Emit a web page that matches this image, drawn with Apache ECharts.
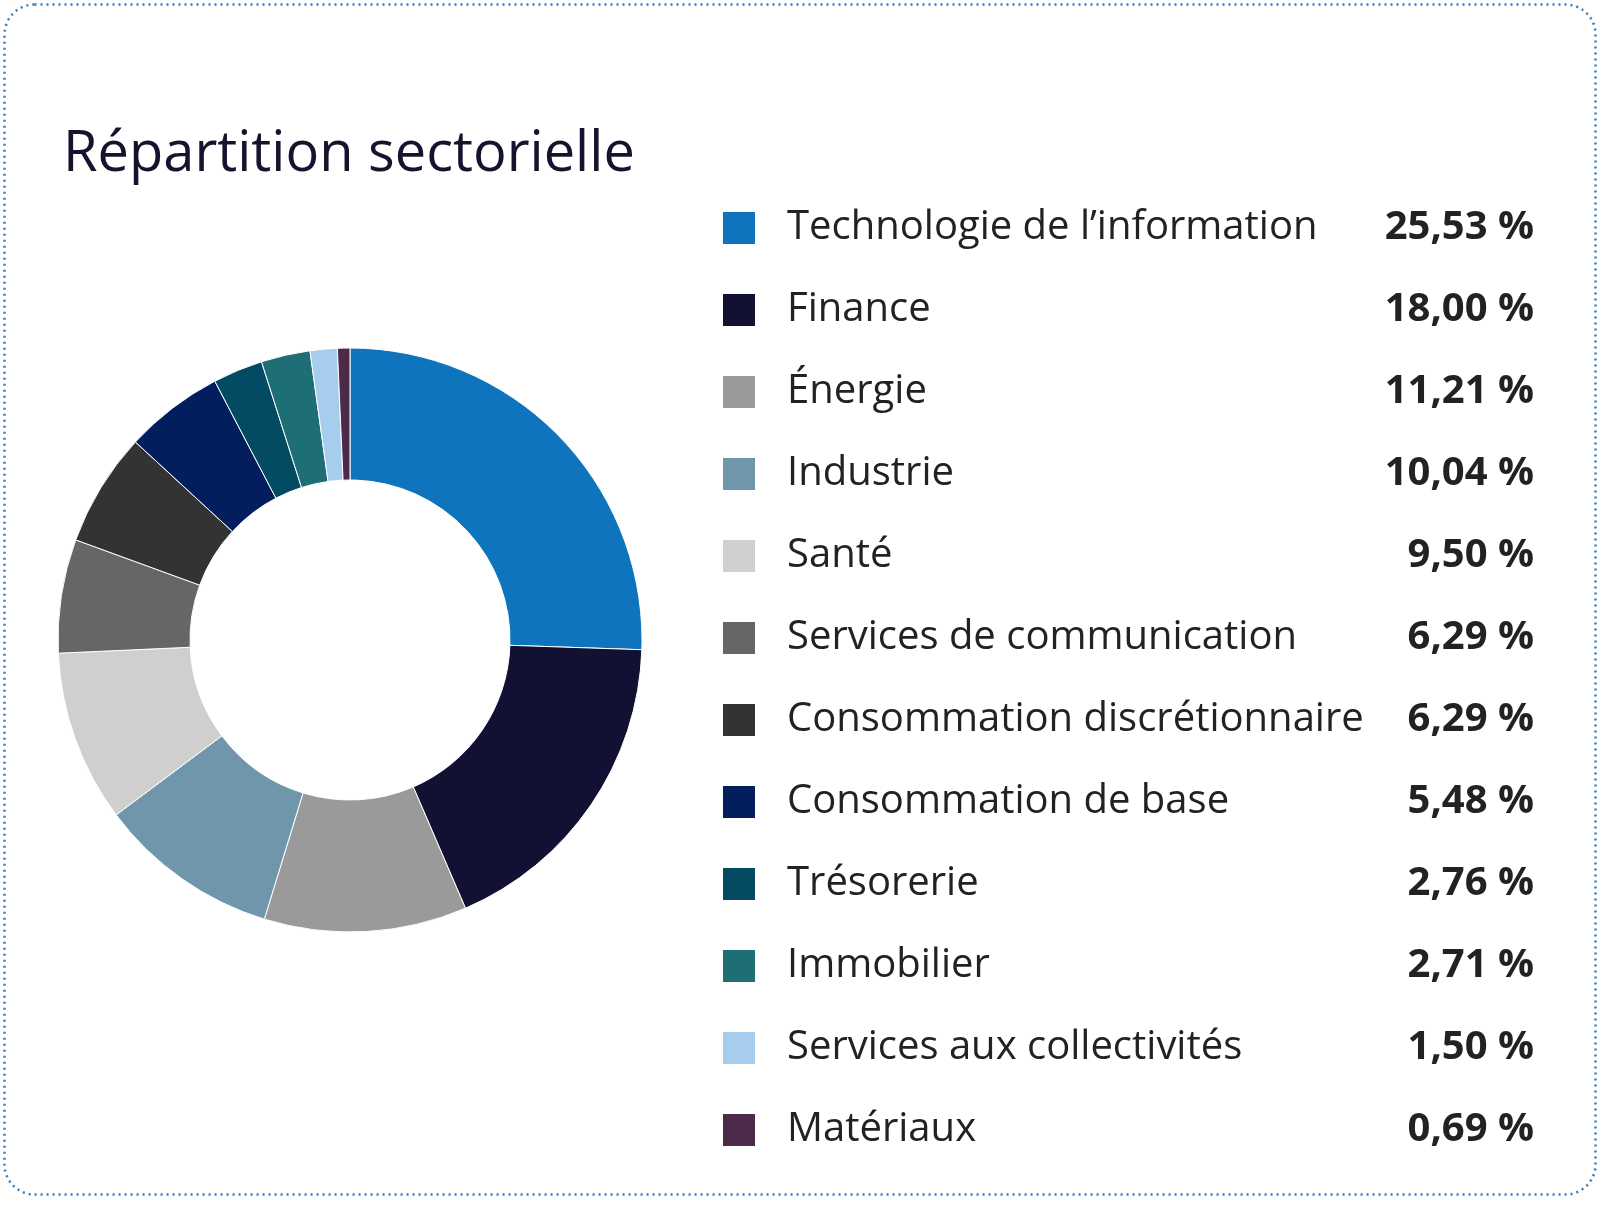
<!DOCTYPE html>
<html><head><meta charset="utf-8">
<script src="https://cdn.jsdelivr.net/npm/echarts@6/dist/echarts.min.js"></script>
<style>html,body{margin:0;background:#fff}#c{width:1597px;height:1217px}</style>
</head><body><div id="c"></div>
<script>
var sectors = ['Technologie de l’information','Finance','Énergie','Industrie','Santé','Services de communication','Consommation discrétionnaire','Consommation de base','Trésorerie','Immobilier','Services aux collectivités','Matériaux'];
var weights = [25.53,18.00,11.21,10.04,9.50,6.29,6.29,5.48,2.76,2.71,1.50,0.69];
var colors = ['#0e74bd','#121133','#9a9a9b','#7096ac','#cfcfcf','#666666','#333333','#031e5d','#024b63','#1d6e75','#a7cdee','#4c2a4a'];

var chart = echarts.init(document.getElementById('c'));
var fmt = function (v) { return v.toFixed(2).replace('.', ',') + ' %'; };
chart.setOption({
  animation: false,
  color: colors,
  textStyle: { fontFamily: 'Open Sans' },
  title: {
    text: 'Répartition sectorielle', left: 58, top: 122,
    textStyle: { fontSize: 56, fontWeight: 'normal', color: '#14142e', fontFamily: 'Open Sans' }
  },
  graphic: [{
    type: 'rect', left: 2, top: 2,
    shape: { width: 1591, height: 1190, r: 30 },
    style: { fill: 'none', stroke: '#2f7fc1', lineWidth: 2.5, lineDash: [2, 4] }
  }],
  legend: {
    orient: 'vertical', left: 716, top: 203,
    itemWidth: 34, itemHeight: 34, itemGap: 42,
    icon: 'rect',
    formatter: function (name) {
      var i = sectors.indexOf(name);
      return '{n|' + name + '}{v|' + fmt(weights[i]) + '}';
    },
    textStyle: {
      padding: [0, 0, 0, 26],
      rich: {
        n: { fontSize: 40, color: '#222', width: 597, fontFamily: 'Open Sans' },
        v: { fontSize: 40, color: '#222', fontWeight: 'bold', width: 150, align: 'right', fontFamily: 'Open Sans' }
      }
    },
    selectedMode: false
  },
  series: [{
    type: 'pie',
    center: [350, 640],
    radius: [160, 292],
    startAngle: 90,
    label: { show: false },
    itemStyle: { borderColor: '#fff', borderWidth: 1 },
    data: sectors.map(function (s, i) { return { name: s, value: weights[i] }; })
  }]
});
</script></body></html>
